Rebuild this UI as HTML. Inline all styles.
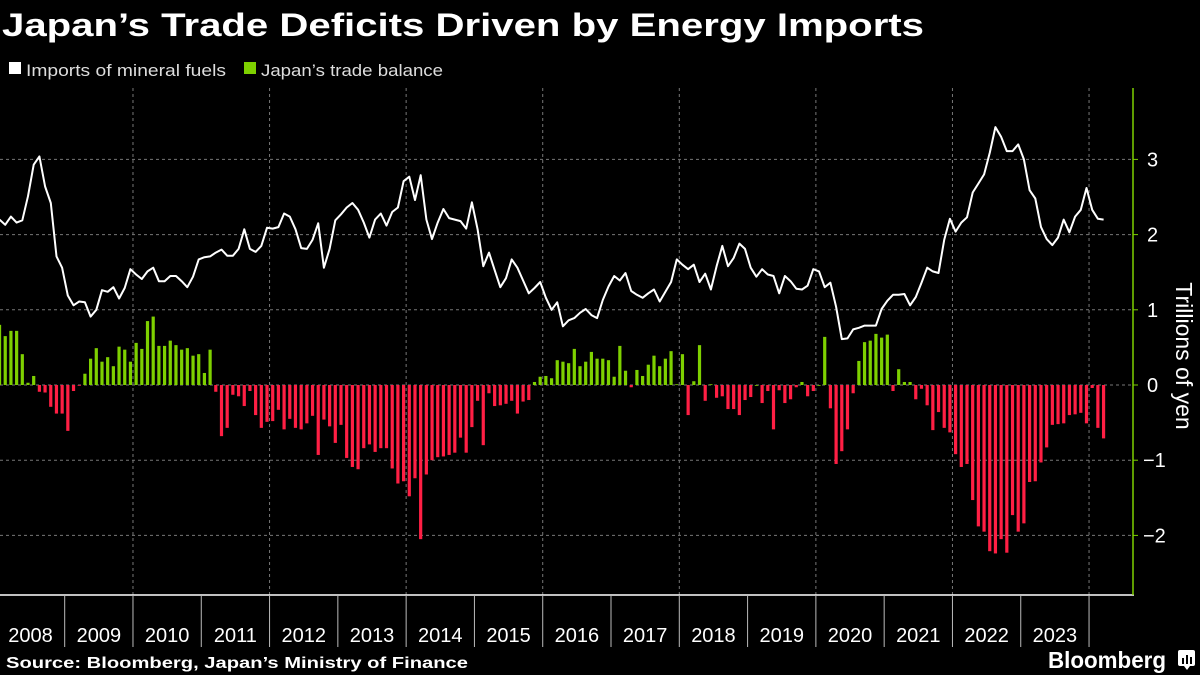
<!DOCTYPE html>
<html><head><meta charset="utf-8"><style>
html,body{margin:0;padding:0;background:#000;width:1200px;height:675px;overflow:hidden}
svg{display:block;font-family:"Liberation Sans",sans-serif}
</style></head><body>
<svg id="chart" width="1200" height="675" viewBox="0 0 1200 675" xmlns="http://www.w3.org/2000/svg">
<rect width="1200" height="675" fill="#000"/>
<text x="2" y="36" fill="#fff" font-weight="bold" font-size="32" textLength="922" lengthAdjust="spacingAndGlyphs">Japan’s Trade Deficits Driven by Energy Imports</text>
<g>
<rect x="9" y="62" width="12" height="12" fill="#fff"/>
<text x="26" y="76" fill="#ddd" font-size="17" textLength="200" lengthAdjust="spacingAndGlyphs">Imports of mineral fuels</text>
<rect x="244" y="62" width="12" height="12" fill="#7ed000"/>
<text x="261" y="76" fill="#ddd" font-size="17" textLength="182" lengthAdjust="spacingAndGlyphs">Japan’s trade balance</text>
</g>
<g id="grid"></g>
<g id="bars"></g>
<g id="lineg"></g>
<g id="axes"></g>
<text transform="translate(1176,356) rotate(90)" text-anchor="middle" fill="#fff" font-size="23">Trillions of yen</text>
<text x="6" y="668" fill="#fff" font-weight="bold" font-size="16" textLength="462" lengthAdjust="spacingAndGlyphs">Source: Bloomberg, Japan’s Ministry of Finance</text>
<text x="1048" y="668" fill="#fff" font-weight="bold" font-size="23" textLength="118" lengthAdjust="spacingAndGlyphs">Bloomberg</text>
<g>
<rect x="1178" y="650" width="17" height="16" rx="2" fill="#fff"/>
<path d="M1184 666 l3 4 l3 -4z" fill="#fff"/>
<rect x="1182" y="658" width="2" height="6" fill="#000"/>
<rect x="1186" y="655" width="2" height="9" fill="#000"/>
<rect x="1190" y="657" width="2" height="7" fill="#000"/>
</g>
</svg>
<script>
const years = ["2008","2009","2010","2011","2012","2013","2014","2015","2016","2017","2018","2019","2020","2021","2022","2023"];
const yTicks = [3,2,1,0,-1,-2];
const fuelImports = [2.20,2.13,2.24,2.16,2.19,2.51,2.93,3.04,2.64,2.42,1.71,1.56,
1.19,1.06,1.11,1.10,0.91,1.00,1.26,1.24,1.30,1.15,1.29,1.54,
1.47,1.41,1.51,1.56,1.38,1.38,1.45,1.45,1.38,1.30,1.44,1.67,
1.70,1.71,1.76,1.80,1.72,1.72,1.81,2.07,1.81,1.77,1.85,2.09,
2.08,2.10,2.28,2.24,2.07,1.82,1.81,1.93,2.15,1.56,1.81,2.19,
2.27,2.36,2.42,2.33,2.16,1.96,2.20,2.28,2.12,2.30,2.36,2.71,
2.77,2.46,2.79,2.20,1.94,2.16,2.34,2.22,2.20,2.18,2.08,2.43,
2.07,1.58,1.76,1.53,1.30,1.42,1.67,1.56,1.39,1.22,1.29,1.37,
1.16,1.00,1.10,0.78,0.86,0.89,0.96,1.01,0.93,0.89,1.13,1.31,
1.45,1.39,1.49,1.25,1.20,1.16,1.22,1.27,1.11,1.24,1.37,1.67,
1.60,1.54,1.60,1.37,1.48,1.27,1.58,1.85,1.58,1.69,1.88,1.81,
1.56,1.44,1.54,1.47,1.45,1.22,1.45,1.38,1.28,1.27,1.32,1.54,
1.51,1.30,1.36,1.04,0.61,0.62,0.74,0.76,0.79,0.79,0.79,1.01,
1.12,1.20,1.20,1.21,1.06,1.17,1.36,1.56,1.51,1.49,1.93,2.21,
2.04,2.16,2.23,2.56,2.68,2.80,3.09,3.43,3.30,3.11,3.11,3.20,
3.00,2.59,2.48,2.10,1.94,1.86,1.96,2.20,2.03,2.24,2.33,2.62,2.33,2.21,2.20];
const tradeBalance = [.80,.65,.72,.72,.41,.03,.12,-.09,-.10,-.29,-.38,-.38,
-.61,-.08,-.01,.15,.35,.49,.31,.37,.25,.51,.47,.31,
.56,.48,.85,.91,.52,.52,.59,.53,.47,.49,.39,.41,
.16,.47,-.09,-.68,-.57,-.13,-.15,-.28,-.08,-.40,-.57,-.49,
-.48,-.33,-.59,-.45,-.57,-.59,-.51,-.41,-.93,-.46,-.55,-.77,
-.53,-.97,-1.09,-1.12,-.84,-.79,-.89,-.84,-.84,-1.11,-1.31,-1.28,
-1.48,-1.24,-2.05,-1.19,-1.0,-.96,-.95,-.93,-.90,-.70,-.90,-.56,
-.21,-.80,-.11,-.28,-.27,-.25,-.21,-.38,-.22,-.20,.04,.11,
.12,.09,.33,.31,.29,.48,.25,.31,.44,.35,.35,.33,
.11,.52,.19,-.03,.20,.12,.27,.39,.25,.35,.45,.01,
.41,-.40,.05,.53,-.21,.01,-.17,-.15,-.32,-.32,-.40,-.20,
-.16,0,-.24,-.08,-.59,-.07,-.24,-.19,-.03,.04,-.15,-.08,
0,.64,-.31,-1.05,-.88,-.59,-.11,.32,.57,.59,.68,.63,
.67,-.08,.21,.04,.04,-.19,-.05,-.27,-.60,-.36,-.57,-.63,
-.92,-1.09,-1.05,-1.53,-1.88,-1.95,-2.21,-2.24,-2.05,-2.23,-1.73,-1.95,
-1.84,-1.29,-1.28,-1.03,-.83,-.53,-.52,-.51,-.40,-.39,-.37,-.51,-.04,-.57,-.71];

const NS = "http://www.w3.org/2000/svg";
const X0 = -3.6, YW = 68.29, MW = YW/12;
function xMonth(i){ return X0 + MW*(i+0.5) + 0.3; }
function xYear(k){ return X0 + YW*k; }
function yVal(v){ return 385 - v*75.2; }
function mk(tag, attrs, parent){ const e=document.createElementNS(NS,tag); for(const k in attrs) e.setAttribute(k,attrs[k]); parent.appendChild(e); return e; }

const grid=document.getElementById('grid'), bars=document.getElementById('bars'), lineg=document.getElementById('lineg'), axes=document.getElementById('axes');
// horizontal gridlines
yTicks.forEach(t=>{
  const l=mk('line',{x1:0,x2:1133,y1:yVal(t),y2:yVal(t),stroke:'#777','stroke-width':1,'stroke-dasharray':'3,3'},grid);
  
  
});
// vertical gridlines every 2 years
for(let k=2;k<=16;k+=2){
  const l=mk('line',{x1:xYear(k),x2:xYear(k),y1:88,y2:595,stroke:'#777','stroke-width':1,'stroke-dasharray':'3,3'},grid);
  
  
}
// bars
tradeBalance.forEach((v,i)=>{
  const y0=yVal(0), y1=yVal(v);
  const r=mk('rect',{x:xMonth(i)-1.6,width:3.2,y:Math.min(y0,y1),height:Math.max(0.8,Math.abs(y1-y0)),fill:v>=0?'#7ed000':'#ff1f44'},bars);
  
  
});
// line
const pts=fuelImports.map((v,i)=>xMonth(i).toFixed(1)+','+yVal(v).toFixed(1)).join(' ');
const pl=mk('polyline',{points:pts,fill:'none',stroke:'#fff','stroke-width':2,'stroke-linejoin':'round'},lineg);


// x axis
const xa=mk('line',{x1:0,x2:1134,y1:595,y2:595,stroke:'#fff','stroke-width':1.5},axes);


for(let k=1;k<=16;k++){
  const s=mk('line',{x1:xYear(k),x2:xYear(k),y1:595,y2:647,stroke:'#bbb','stroke-width':1},axes);
  
  
}
years.forEach((y,k)=>{
  const t=mk('text',{x:Math.max(xYear(k)+YW/2,30),y:642,'text-anchor':'middle',fill:'#fff','font-size':20},axes);
  t.textContent=y;
  
  
});
// y axis
const ya=mk('line',{x1:1133,x2:1133,y1:88,y2:595,stroke:'#7ed000','stroke-width':1.5},axes);


yTicks.forEach(t=>{
  const tk=mk('line',{x1:1133,x2:1138,y1:yVal(t),y2:yVal(t),stroke:'#7ed000','stroke-width':1},axes);
  
  
  const lb=mk('text',{x:t<0?1143:1147,y:yVal(t)+7,fill:'#fff','font-size':20},axes);
  lb.textContent=t<0?('\u2212'+(-t)):String(t);
  
  
});
</script>
</body></html>
